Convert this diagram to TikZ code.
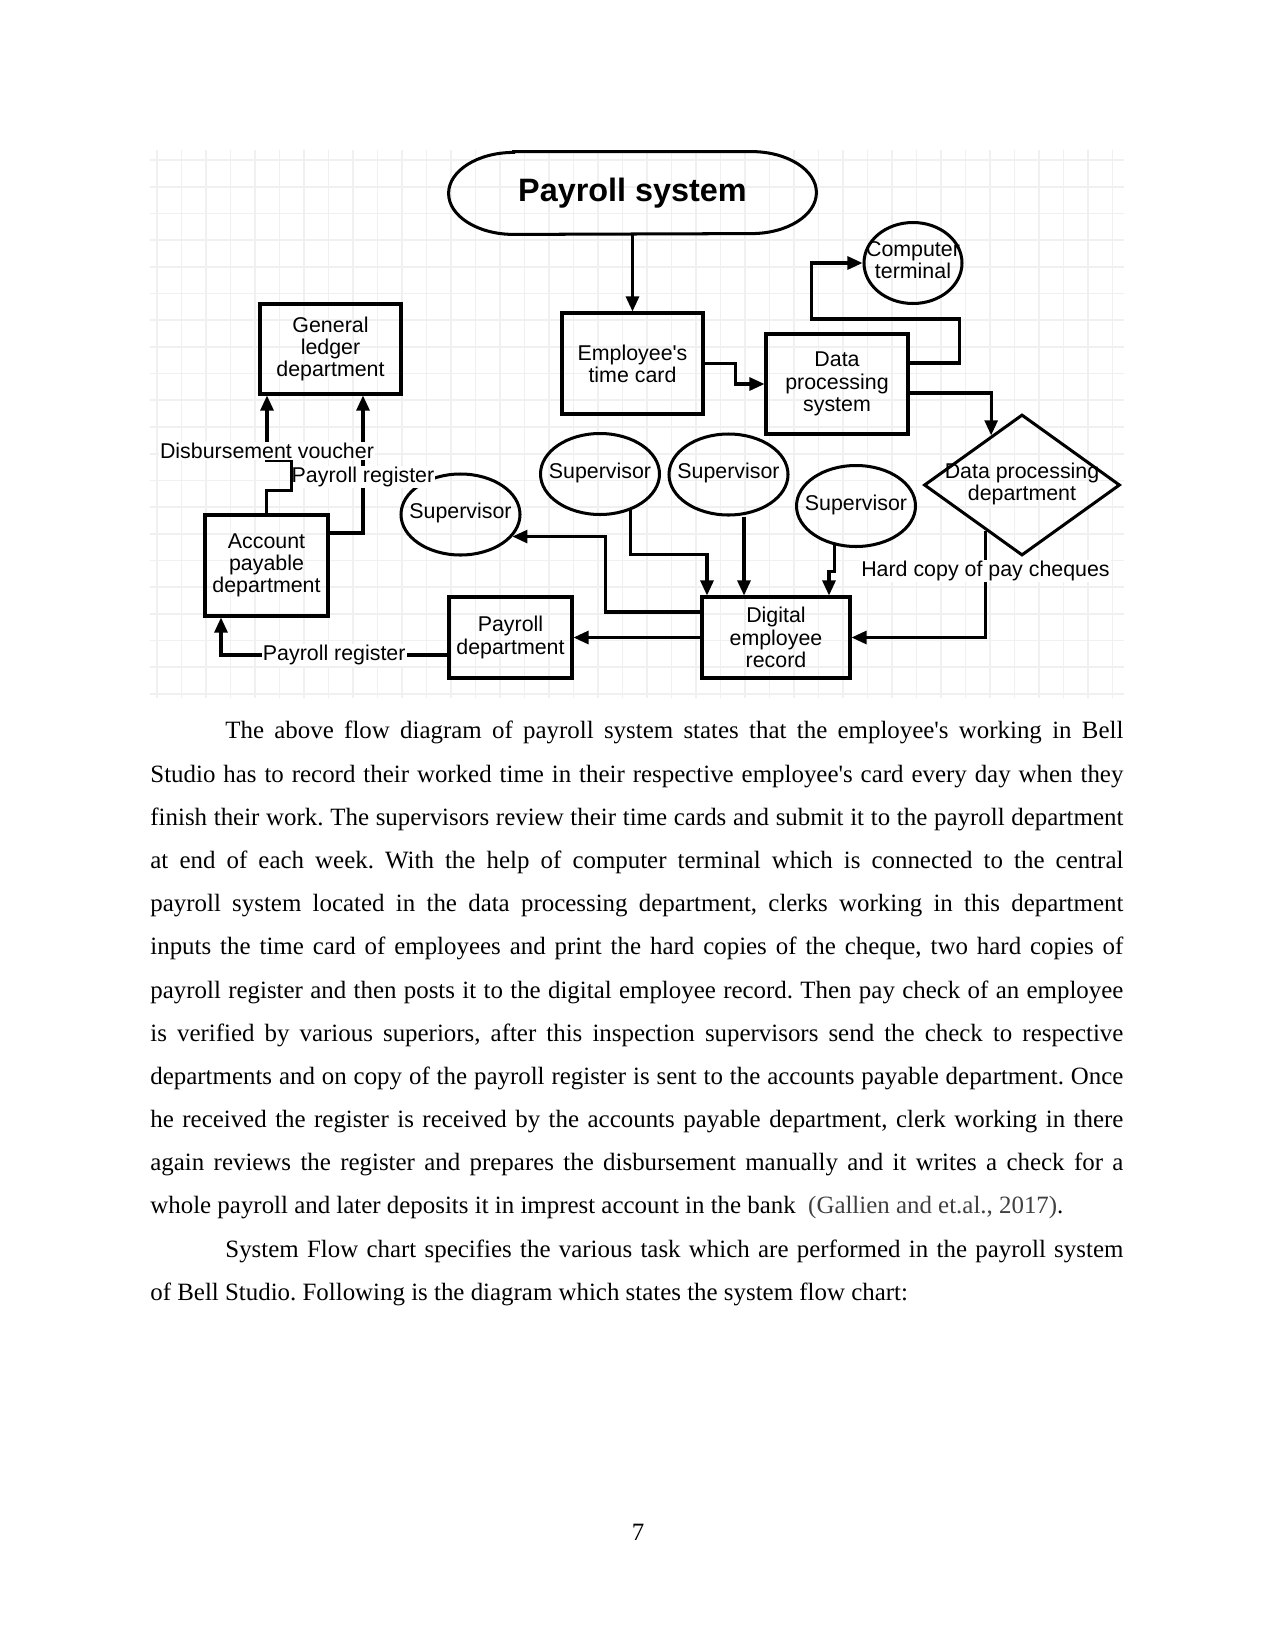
\documentclass[tikz,border=0pt]{standalone}
\usepackage{fontspec}
\newfontfamily\bodyfont{Liberation Serif}
\newfontfamily\diagfont{Liberation Sans}
\usetikzlibrary{shapes.geometric,arrows.meta,calc,positioning}
\newdimen\pxu \pxu=0.48bp
\newcommand{\zbox}[1]{\makebox[0pt]{\begin{tabular}{@{}c@{}}#1\end{tabular}}}

\begin{document}
\begin{tikzpicture}[x=0.48bp, y=-0.48bp,
  every node/.style={font=\diagfont\fontsize{10.3}{10.7}\selectfont},
  box/.style={draw, rectangle, line width=1.45bp, align=center, inner sep=1bp},
  sup/.style={draw, ellipse, line width=1.45bp, inner sep=0pt, minimum width=119\pxu, minimum height=81\pxu},
  lbl/.style={fill=white, inner sep=0.5bp},
  arr/.style={line width=1.45bp, -{Triangle[length=7.2bp, width=6.2bp]}},
  gridline/.style={black!6, line width=0.8bp},
  para/.style={text width=467bp, inner sep=0pt, align=justify, font=\bodyfont\fontsize{12}{20.8}\selectfont}]
				\fill[white] (0,0) rectangle (1275,1651);
				\useasboundingbox (0,0) rectangle (1275,1651);
				% grid behind the chart
				\foreach \gx in {0,...,39} \draw[gridline] ({157+24.5*\gx},150) -- ({157+24.5*\gx},698);
				\foreach \gy in {0,...,20} \draw[gridline] (150,{160+26.7*\gy}) -- (1124,{160+26.7*\gy});
				% chart
				\node[font=\diagfont\bfseries\fontsize{15.6}{18}\selectfont, minimum width=367\pxu, minimum height=82\pxu] (title) at (632.5,193) {Payroll system};
				\draw[line width=1.45bp] ([xshift=65\pxu]title.north west) -- ([xshift=-65\pxu]title.north east) arc[start angle=90, end angle=-90, x radius=65\pxu, y radius=41\pxu] -- ([xshift=65\pxu]title.south west) arc[start angle=270, end angle=90, x radius=65\pxu, y radius=41\pxu] -- cycle;
				\node[box, minimum width=141\pxu, minimum height=90\pxu] (ledger) at (330.5,349) {General\\ledger\\department};
				\node[box, minimum width=141\pxu, minimum height=101\pxu] (card) at (632.5,363.5) {Employee's\\time card};
				\node[box, minimum width=142\pxu, minimum height=100\pxu] (dps) at (837,384) {Data\\processing\\system};
				\node[sup, minimum width=98\pxu] (terminal) at (913,263) {\zbox{Computer\\terminal}};
				\node[draw, diamond, line width=1.45bp, inner sep=0pt, minimum width=196\pxu, minimum height=141\pxu] (dpdept) at (1022,485) {\zbox{Data processing\\department}};
				\node[sup] (sup0) at (460.5,514.5) {\zbox{Supervisor}};
				\node[sup] (sup1) at (600,474) {\zbox{Supervisor}};
				\node[sup] (sup2) at (728.5,474.5) {\zbox{Supervisor}};
				\node[sup] (sup3) at (856,506) {\zbox{Supervisor}};
				\node[box, minimum width=148\pxu, minimum height=81\pxu] (record) at (776,637.5) {Digital\\employee\\record};
				\node[box, minimum width=123\pxu, minimum height=81\pxu] (paydept) at (510.5,637.5) {Payroll\\department};
				\node[box, minimum width=123\pxu, minimum height=101\pxu] (account) at (266.5,565.5) {Account\\payable\\department};
				\coordinate (s2foot) at ([xshift=-32\pxu]record.north);
				\draw[arr] (title) -- (card);
				\draw[arr] (card.east) -- ++(31,0) |- (dps.west);
				\draw[arr] ([yshift=21\pxu]dps.east) -- ++(50,0) -- ++(0,-44) -| ([xshift=-51\pxu]terminal.west) -- (terminal.west);
				\draw[arr] ([yshift=-9\pxu]dps.east) -| ($(dpdept.north)!0.31!(dpdept.west)$);
				\draw[arr] ($(dpdept.west)!0.633!(dpdept.south)$) |- (record.east) node[lbl, pos=0.19] {Hard copy of pay cheques};
				\draw[arr] (sup1.-50) -- ++(0,44) -| ([xshift=-69\pxu]record.north);
				\draw[arr] (s2foot |- sup2.south) -- (s2foot);
				\draw[arr] (sup3.-119) -- ++(0,26) -| ([xshift=53\pxu]record.north);
				\draw[arr] ([yshift=25.5\pxu]record.west) -- ++(-95,0) |- (sup0.-23);
				\draw[arr] (record) -- (paydept);
				\draw[arr] ([yshift=-17.5\pxu]paydept.west) -| ([xshift=-45.5\pxu]account.south) node[lbl, pos=0.25] {Payroll register};
				\draw[arr] ([yshift=32.5\pxu]account.east) -| ([xshift=32.5\pxu]ledger.south) node[lbl, pos=0.705] {Payroll register};
				\draw[arr] (account.north) -- ++(0,-23) -- ++(25,0) -- ++(0,-30) -| ([xshift=-63.5\pxu]ledger.south) node[lbl, pos=0.575] {Disbursement voucher};
				% page text
				\node[para, anchor=north west] (body) at (150,721) {\frenchspacing\hyphenpenalty=10000 \exhyphenpenalty=10000 \tolerance=9999
				\noindent\hspace*{36bp}The above flow diagram of payroll system states that the employee's working in Bell\linebreak
				Studio has to record their worked time in their respective employee's card every day when they\linebreak
				finish their work. The supervisors review their time cards and submit it to the payroll department\linebreak
				at end of each week. With the help of computer terminal which is connected to the central\linebreak
				payroll system located in the data processing department, clerks working in this department\linebreak
				inputs the time card of employees and print the hard copies of the cheque, two hard copies of\linebreak
				payroll register and then posts it to the digital employee record. Then pay check of an employee\linebreak
				is verified by various superiors, after this inspection supervisors send the check to respective\linebreak
				departments and on copy of the payroll register is sent to the accounts payable department. Once\linebreak
				he received the register is received by the accounts payable department, clerk working in there\linebreak
				again reviews the register and prepares the disbursement manually and it writes a check for a\linebreak
				whole payroll and later deposits it in imprest account in the bank\ \ \textcolor{black!75}{(Gallien and et.al., 2017)}.\par
				\noindent\hspace*{36bp}System Flow chart specifies the various task which are performed in the payroll system\linebreak
				of Bell Studio. Following is the diagram which states the system flow chart:\par};
				\node[font=\bodyfont\fontsize{12}{14}\selectfont, anchor=base] (pagenum) at (638,1540) {7};
			\end{tikzpicture}
\end{document}
